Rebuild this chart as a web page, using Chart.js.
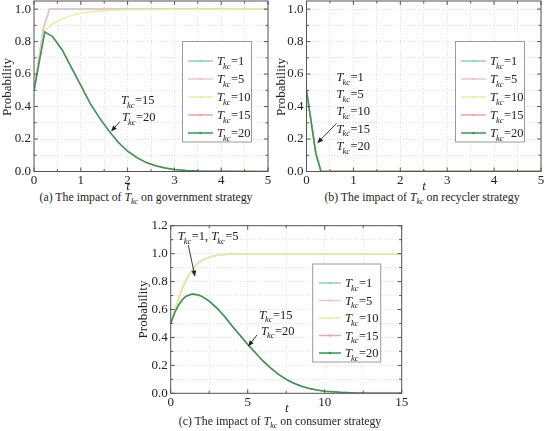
<!DOCTYPE html>
<html>
<head>
<meta charset="utf-8">
<script src="https://cdn.jsdelivr.net/npm/chart.js@4.4.1/dist/chart.umd.min.js"></script>
<style>
  html, body { margin: 0; padding: 0; background: #fff; }
  #page { position: relative; width: 546px; height: 431px; overflow: hidden; color: #222;
          font-family: "Liberation Serif", "Times New Roman", serif; }
  .box { position: absolute; }
  .cap { position: absolute; font-size: 11.8px; line-height: 14px; white-space: nowrap; transform: translate(-50%, -50%); }
  .cap sub { font-size: 8px; font-style: italic; vertical-align: -3px; line-height: 0; }
</style>
</head>
<body>
<div id="page">
  <div class="box" style="left:0;top:0;width:273px;height:190px"><canvas id="chartA"></canvas></div>
  <div class="box" style="left:273px;top:0;width:273px;height:190px"><canvas id="chartB"></canvas></div>
  <div class="box" style="left:130px;top:215px;width:280px;height:200px"><canvas id="chartC"></canvas></div>
  <div class="cap" style="left:146px;top:197px">(a) The impact of <i>T</i><sub>kc</sub> on government strategy</div>
  <div class="cap" style="left:422px;top:197px">(b) The impact of <i>T</i><sub>kc</sub> on recycler strategy</div>
  <div class="cap" style="left:280px;top:421px">(c) The impact of <i>T</i><sub>kc</sub> on consumer strategy</div>
</div>
<script>
  // series labels (T_kc values) and colours
  const seriesNames = ["1", "5", "10", "15", "20"];
  const seriesColors = ["#8fd4b1", "#f3c3cf", "#ecec9e", "#f2a2a2", "#2f9a52"];

  // (a) government strategy
  const tGovFast = [0, 0.2, 0.33, 1, 2, 3, 4, 5];
  const pGovFast = [0.5, 0.88, 1, 1, 1, 1, 1, 1];
  const tGovT10 = [0, 0.23, 0.4, 0.6, 0.8, 1.0, 1.25, 1.5, 2, 2.5, 3, 5];
  const pGovT10 = [0.5, 0.87, 0.91, 0.94, 0.96, 0.975, 0.985, 0.991, 0.996, 0.998, 0.999, 1];
  const tGovSlow = [0, 0.23, 0.4, 0.6, 0.8, 1.0, 1.2, 1.4, 1.6, 1.8, 2.0, 2.2, 2.4, 2.6, 2.8, 3.0, 3.25, 3.5, 4, 5];
  const pGovSlow = [0.5, 0.86, 0.83, 0.75, 0.64, 0.53, 0.42, 0.33, 0.25, 0.18, 0.125, 0.085, 0.055, 0.035, 0.021, 0.012, 0.006, 0.003, 0.001, 0];

  // (b) recycler strategy (all five curves coincide)
  const tRec = [0, 0.2, 0.31, 1, 2, 3, 4, 5];
  const pRec = [0.5, 0.11, 0, 0, 0, 0, 0, 0];

  // (c) consumer strategy
  const tConRise = [0, 0.25, 0.5, 0.75, 1, 1.25, 1.5, 1.75, 2, 2.5, 3, 3.5, 4, 5, 6, 8, 15];
  const pConRise = [0.5, 0.59, 0.67, 0.75, 0.81, 0.86, 0.9, 0.93, 0.95, 0.975, 0.988, 0.994, 0.997, 0.999, 1, 1, 1];
  const tConFall = [0, 0.25, 0.5, 0.75, 1, 1.4, 1.75, 2, 2.5, 3, 3.5, 4, 4.5, 5, 5.5, 6, 6.5, 7, 7.5, 8, 8.5, 9, 9.5, 10, 11, 12, 13, 15];
  const pConFall = [0.5, 0.575, 0.63, 0.67, 0.695, 0.71, 0.705, 0.695, 0.66, 0.61, 0.55, 0.48, 0.415, 0.35, 0.29, 0.23, 0.18, 0.135, 0.1, 0.072, 0.05, 0.034, 0.023, 0.015, 0.007, 0.003, 0.001, 0];

  // axis ticks
  const xGridAB = [0, 0.5, 1, 1.5, 2, 2.5, 3, 3.5, 4, 4.5, 5];
  const xLabelsAB = ["0", "1", "2", "3", "4", "5"];
  const xGridC = [0, 2.5, 5, 7.5, 10, 12.5, 15];
  const xLabelsC = ["0", "5", "10", "15"];
  const yGridAB = [0, 0.1, 0.2, 0.3, 0.4, 0.5, 0.6, 0.7, 0.8, 0.9, 1.0];
  const yLabelsAB = ["0.0", "0.2", "0.4", "0.6", "0.8", "1.0"];
  const yGridC = [0, 0.1, 0.2, 0.3, 0.4, 0.5, 0.6, 0.7, 0.8, 0.9, 1.0, 1.1, 1.2];
  const yLabelsC = ["0.0", "0.2", "0.4", "0.6", "0.8", "1.0", "1.2"];

  const FONT = '"Liberation Serif", "Times New Roman", serif';
  const INK = "#222";

  function pts(xs, ys) {
    return xs.map((x, i) => ({ x, y: ys[i] }));
  }

  // draws italic T with subscript kc, then suffix; returns the end x
  function drawTkc(ctx, x, y, suffix, size) {
    ctx.textAlign = "left";
    ctx.textBaseline = "alphabetic";
    ctx.font = `italic ${size}px ${FONT}`;
    ctx.fillText("T", x, y);
    let w = ctx.measureText("T").width - 1;
    ctx.font = `italic ${size * 0.68}px ${FONT}`;
    ctx.fillText("kc", x + w, y + size * 0.28);
    w += ctx.measureText("kc").width + 0.5;
    ctx.font = `${size}px ${FONT}`;
    ctx.fillText(suffix, x + w, y);
    return x + w + ctx.measureText(suffix).width;
  }

  function drawArrow(ctx, x1, y1, x2, y2) {
    const ang = Math.atan2(y2 - y1, x2 - x1);
    const len = 6, half = 2.4;
    ctx.strokeStyle = INK;
    ctx.fillStyle = INK;
    ctx.lineWidth = 0.9;
    ctx.beginPath();
    ctx.moveTo(x1, y1);
    ctx.lineTo(x2 - Math.cos(ang) * len * 0.8, y2 - Math.sin(ang) * len * 0.8);
    ctx.stroke();
    ctx.beginPath();
    ctx.moveTo(x2, y2);
    ctx.lineTo(x2 - Math.cos(ang) * len - Math.sin(ang) * half, y2 - Math.sin(ang) * len + Math.cos(ang) * half);
    ctx.lineTo(x2 - Math.cos(ang) * len + Math.sin(ang) * half, y2 - Math.sin(ang) * len - Math.cos(ang) * half);
    ctx.closePath();
    ctx.fill();
  }

  // frame, inward ticks, tick labels, axis titles, legend and notes
  const decor = {
    id: "decor",
    afterDraw(chart, args, o) {
      const { ctx, chartArea: a, scales } = chart;
      const xs = scales.x, ys = scales.y;
      ctx.save();

      ctx.strokeStyle = "#555";
      ctx.lineWidth = 1;
      ctx.strokeRect(a.left, a.top, a.right - a.left, a.bottom - a.top);

      const labelledX = o.xLabels.map(Number);
      const labelledY = o.yLabels.map(Number);
      ctx.beginPath();
      xs.ticks.forEach((t) => {
        const px = xs.getPixelForValue(t.value);
        const len = labelledX.some((v) => Math.abs(v - t.value) < 1e-6) ? 4 : 2.5;
        ctx.moveTo(px, a.bottom); ctx.lineTo(px, a.bottom - len);
        ctx.moveTo(px, a.top); ctx.lineTo(px, a.top + len);
      });
      ys.ticks.forEach((t) => {
        const py = ys.getPixelForValue(t.value);
        const len = labelledY.some((v) => Math.abs(v - t.value) < 1e-6) ? 4 : 2.5;
        ctx.moveTo(a.left, py); ctx.lineTo(a.left + len, py);
        ctx.moveTo(a.right, py); ctx.lineTo(a.right - len, py);
      });
      ctx.stroke();

      ctx.fillStyle = INK;
      ctx.font = `13px ${FONT}`;
      ctx.textAlign = "center";
      ctx.textBaseline = "alphabetic";
      o.xLabels.forEach((s) => {
        ctx.fillText(s, xs.getPixelForValue(Number(s)), a.bottom + 12.5);
      });
      ctx.textAlign = "right";
      ctx.textBaseline = "middle";
      o.yLabels.forEach((s) => {
        ctx.fillText(s, a.left - 3, ys.getPixelForValue(Number(s)));
      });

      // axis titles
      ctx.font = `italic 13px ${FONT}`;
      ctx.textAlign = "center";
      ctx.fillText("t", o.xTitle[0], o.xTitle[1]);
      ctx.save();
      ctx.translate(o.yTitle[0], o.yTitle[1]);
      ctx.rotate(-Math.PI / 2);
      ctx.font = `13px ${FONT}`;
      ctx.fillText("Probability", 0, 0);
      ctx.restore();

      // legend
      const L = o.legend;
      ctx.fillStyle = "#fff";
      ctx.fillRect(L.x, L.y, L.w, L.h);
      ctx.strokeStyle = "#9a9a9a";
      ctx.lineWidth = 1;
      ctx.strokeRect(L.x, L.y, L.w, L.h);
      seriesNames.forEach((name, i) => {
        const ry = L.row0 + i * L.step;
        ctx.strokeStyle = seriesColors[i];
        ctx.lineWidth = 1.5;
        ctx.beginPath();
        ctx.moveTo(L.line[0], ry);
        ctx.lineTo(L.line[1], ry);
        ctx.stroke();
        ctx.fillStyle = seriesColors[i];
        ctx.beginPath();
        ctx.arc((L.line[0] + L.line[1]) / 2, ry, 1.3, 0, Math.PI * 2);
        ctx.fill();
        ctx.fillStyle = INK;
        drawTkc(ctx, L.text, ry + 4, "=" + name, 12.5);
      });

      // notes (each may hold several T_kc pieces on one line) and arrows
      ctx.fillStyle = INK;
      o.notes.forEach((n) => {
        let x = n[0];
        n[2].forEach((suffix) => { x = drawTkc(ctx, x, n[1] + 4, suffix, 12.5); });
      });
      o.arrows.forEach((r) => drawArrow(ctx, r[0], r[1], r[2], r[3]));

      ctx.restore();
    }
  };

  function makeChart(id, cfg) {
    const datasets = cfg.series.map((s, i) => ({
      label: "T_kc=" + seriesNames[i],
      data: pts(s[0], s[1]),
      borderColor: seriesColors[i],
      backgroundColor: seriesColors[i],
      borderWidth: 1.5,
      pointRadius: 0,
      tension: 0,
      order: 4 - i
    }));
    const H = cfg.height;
    return new Chart(document.getElementById(id), {
      type: "line",
      data: { datasets },
      options: {
        responsive: true,
        maintainAspectRatio: false,
        animation: false,
        layout: { padding: { left: 0, top: cfg.area.top, right: cfg.area.right, bottom: 0 } },
        plugins: {
          legend: { display: false },
          tooltip: { enabled: false },
          decor: cfg.decor
        },
        scales: {
          x: {
            type: "linear",
            min: 0,
            max: cfg.xMax,
            afterBuildTicks: (s) => { s.ticks = cfg.xGrid.map((v) => ({ value: v })); },
            afterFit: (s) => { s.height = H - cfg.area.bottom; },
            ticks: { display: false },
            grid: { color: "#d6d6d6", lineWidth: 0.8, drawTicks: false },
            border: { display: false, dash: [1, 2] }
          },
          y: {
            min: 0,
            max: cfg.yMax,
            afterBuildTicks: (s) => { s.ticks = cfg.yGrid.map((v) => ({ value: v })); },
            afterFit: (s) => { s.width = cfg.area.left; },
            ticks: { display: false },
            grid: { color: "#d6d6d6", lineWidth: 0.8, drawTicks: false },
            border: { display: false, dash: [1, 2] }
          }
        }
      },
      plugins: [decor]
    });
  }

  const legendAB = { x: 182.5, y: 41.5, w: 69, h: 100.5, row0: 61, step: 18, line: [188, 213], text: 217 };

  makeChart("chartA", {
    height: 190,
    area: { left: 34, top: 1, right: 5, bottom: 171.5 },
    xMax: 5, yMax: 1.05, xGrid: xGridAB, yGrid: yGridAB,
    series: [[tGovFast, pGovFast], [tGovFast, pGovFast], [tGovT10, pGovT10], [tGovSlow, pGovSlow], [tGovSlow, pGovSlow]],
    decor: {
      xLabels: xLabelsAB, yLabels: yLabelsAB,
      xTitle: [128, 187], yTitle: [8, 87],
      legend: legendAB,
      notes: [[121, 100, ["=15"]], [122, 117, ["=20"]]],
      arrows: [[120, 121.5, 111, 131.5]]
    }
  });

  makeChart("chartB", {
    height: 190,
    area: { left: 33.5, top: 1, right: 5, bottom: 171.5 },
    xMax: 5, yMax: 1.05, xGrid: xGridAB, yGrid: yGridAB,
    series: [[tRec, pRec], [tRec, pRec], [tRec, pRec], [tRec, pRec], [tRec, pRec]],
    decor: {
      xLabels: xLabelsAB, yLabels: yLabelsAB,
      xTitle: [151, 187], yTitle: [8.3, 87],
      legend: legendAB,
      notes: [[63.5, 77, ["=1"]], [63.5, 94, ["=5"]], [63.5, 111, ["=10"]], [63.5, 128.5, ["=15"]], [63.5, 146, ["=20"]]],
      arrows: [[63.5, 123.3, 44.2, 143.3]]
    }
  });

  makeChart("chartC", {
    height: 200,
    area: { left: 40.7, top: 10.7, right: 8.3, bottom: 178.3 },
    xMax: 15, yMax: 1.2, xGrid: xGridC, yGrid: yGridC,
    series: [[tConRise, pConRise], [tConRise, pConRise], [tConRise, pConRise], [tConFall, pConFall], [tConFall, pConFall]],
    decor: {
      xLabels: xLabelsC, yLabels: yLabelsC,
      xTitle: [156.7, 194], yTitle: [13.3, 94.5],
      legend: { x: 182.7, y: 49, w: 68, h: 98, row0: 68, step: 17.5, line: [189, 211], text: 215 },
      notes: [[47.7, 21, ["=1, ", "=5"]], [129, 99.5, ["=15"]], [131, 115.5, ["=20"]]],
      arrows: [[58.3, 30, 65, 61.7], [127, 120, 118, 131.5]]
    }
  });
</script>
</body>
</html>
